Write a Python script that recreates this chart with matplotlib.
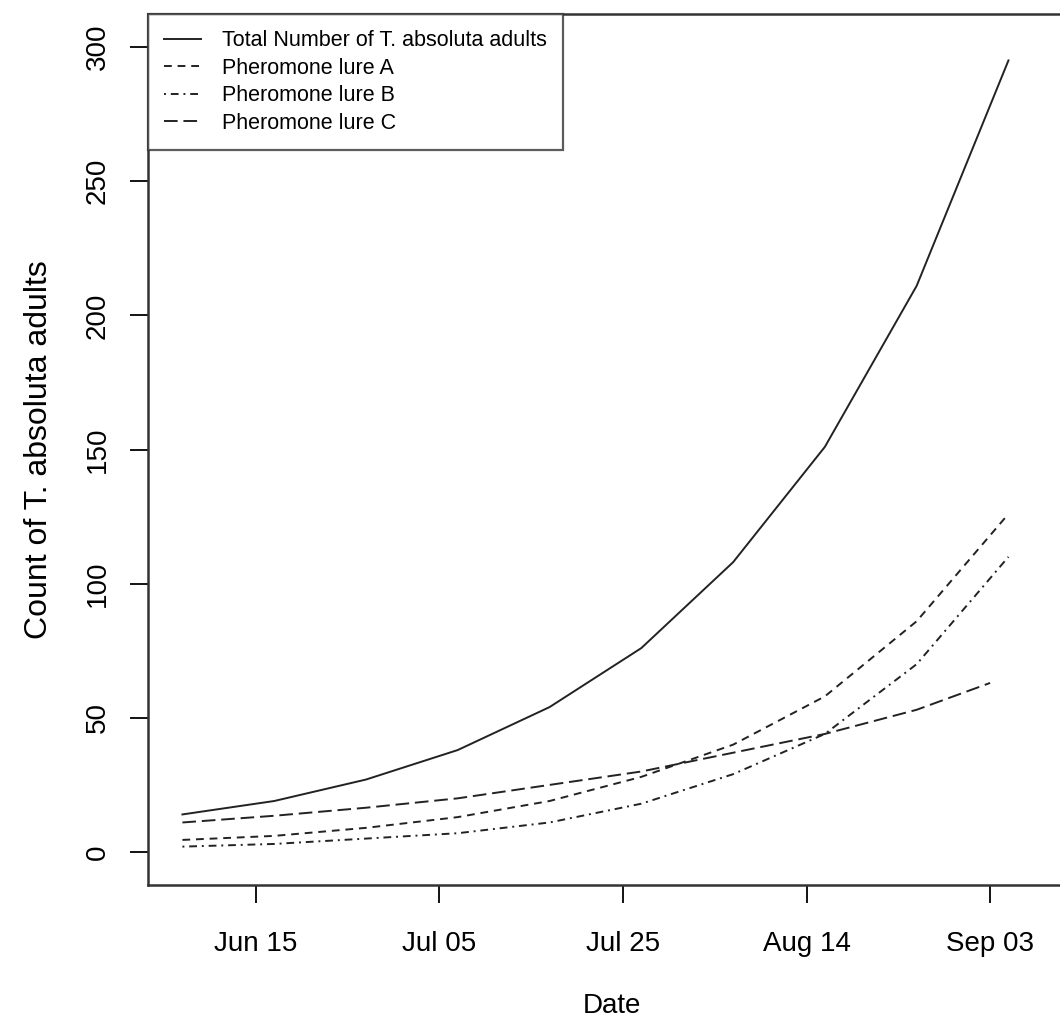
import numpy as np
import pandas as pd
import matplotlib
matplotlib.use("Agg")
import matplotlib.pyplot as plt
import matplotlib.dates as mdates

# ===============================
# DADOS
# ===============================
datas = ["2015-06-07", "2015-06-17", "2015-06-27", "2015-07-07", "2015-07-17",
         "2015-07-27", "2015-08-06", "2015-08-16", "2015-08-26", "2015-09-05"]
datas_c = ["2015-06-07", "2015-06-17", "2015-06-27", "2015-07-07", "2015-07-17",
           "2015-07-27", "2015-08-06", "2015-08-16", "2015-08-26", "2015-09-03"]

total = [14, 19, 27, 38, 54, 76, 108, 151, 211, 295]
lure_a = [4.5, 6, 9, 13, 19, 28, 40, 58, 86, 126]
lure_b = [2, 3, 5, 7, 11, 18, 29, 44, 70, 110]
lure_c = [11, 13.5, 16.5, 20, 25, 30, 37, 44, 53, 63]

rotulos = ["Total Number of T. absoluta adults", "Pheromone lure A",
           "Pheromone lure B", "Pheromone lure C"]
ticks_x = ["2015-06-15", "2015-07-05", "2015-07-25", "2015-08-14", "2015-09-03"]
ticks_y = [0, 50, 100, 150, 200, 250, 300]

# ===============================
# CONFIGURAÇÕES GERAIS
# ===============================
plt.rcParams['font.family'] = ['Liberation Sans', 'DejaVu Sans']
plt.rcParams['font.size'] = 20

x = pd.to_datetime(datas)
xc = pd.to_datetime(datas_c)

fig = plt.figure(figsize=(10.6, 10.29), dpi=100)
W, H = 1060, 1029
ax = fig.add_axes([148 / W, 1 - 885 / H, (1075 - 148) / W, (885 - 14) / H])

lw = 1.4
cor = "#222222"
ax.plot(x, total, color=cor, lw=lw, label=rotulos[0])
ax.plot(x, lure_a, color=cor, lw=lw, dashes=(4, 3), label=rotulos[1])
ax.plot(x, lure_b, color=cor, lw=lw, dashes=(1, 2.5, 4, 2.5), label=rotulos[2])
ax.plot(xc, lure_c, color=cor, lw=lw, dashes=(7, 3), label=rotulos[3])

ax.set_xlim(pd.Timestamp("2015-06-03 06:00"), pd.Timestamp("2015-09-12 06:00"))
ax.set_ylim(-12.3, 312.3)

ax.set_xticks(pd.to_datetime(ticks_x))
ax.xaxis.set_major_formatter(mdates.DateFormatter("%b %d"))
ax.set_yticks(ticks_y)
for lab in ax.get_yticklabels():
    lab.set_rotation(90)
    lab.set_va("center")

ax.tick_params(axis="x", length=13, width=1.3, pad=20, labelsize=20)
ax.tick_params(axis="y", length=13, width=1.3, pad=14, labelsize=20)
for s in ax.spines.values():
    s.set_linewidth(1.8)
    s.set_color("#333333")

ax.set_xlabel("Date", labelpad=26)
ax.set_ylabel("Count of T. absoluta adults", labelpad=22, fontsize=23)

leg = ax.legend(loc="upper left", bbox_to_anchor=(0, 1), borderaxespad=0,
                fontsize=15.5, frameon=True, fancybox=False, edgecolor="#333333",
                handlelength=1.7, handletextpad=1.0, labelspacing=0.3,
                borderpad=0.75)
leg.get_frame().set_linewidth(1.6)

plt.savefig("out.png", dpi=100)
print("Gráfico salvo: out.png")
